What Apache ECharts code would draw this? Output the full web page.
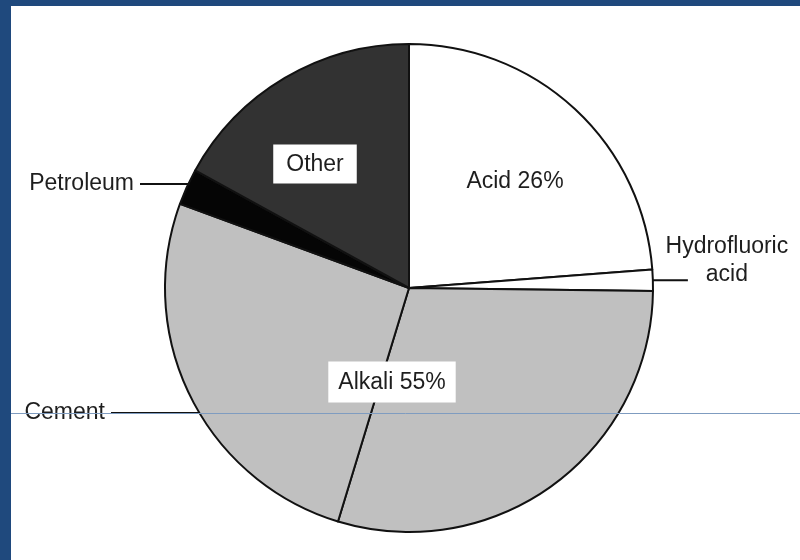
<!DOCTYPE html>
<html>
<head>
<meta charset="utf-8">
<title>Sulfuric acid uses</title>
<script src="https://cdn.jsdelivr.net/npm/echarts@6/dist/echarts.min.js"></script>
<style>
    html, body { margin: 0; padding: 0; background: #fff; }
    #chart { width: 800px; height: 560px; }
</style>
</head>
<body>
<div id="chart"></div>
<script>
    // slices, clockwise from 12 o'clock (percent of whole)
    var names = ['Acid', 'Hydrofluoric acid', 'Alkali', 'Cement', 'Petroleum', 'Other'];
    var shares = [23.8, 1.4, 29.5, 25.9, 2.4, 17.0];
    var labelTexts = ['Acid 26%', 'Hydrofluoric\nacid', 'Alkali 55%', 'Cement', 'Petroleum', 'Other'];

    var fills = ['#ffffff', '#ffffff', '#c0c0c0', '#c0c0c0', '#050505', '#323232'];
    var font = "'Liberation Sans', Arial, sans-serif";
    var ink = '#1e1e1e';

    // where the moved labels sit: [x, y, align]
    var labelPos = {
        'Acid': [515, 182, 'center'],
        'Alkali': [392, 382, 'center'],
        'Other': [315, 164, 'center'],
        'Petroleum': [190, 184, 'right'],
        'Cement': [200, 413, 'right']
    };
    // length of the leader drawn after the left-hand labels
    var leaderLen = { 'Petroleum': 50, 'Cement': 89 };

    var chart = echarts.init(document.getElementById('chart'));

    var data = names.map(function (n, i) {
        var item = {
            name: n,
            value: shares[i],
            itemStyle: { color: fills[i] },
            label: { show: true, formatter: labelTexts[i] },
            labelLine: { show: false }
        };
        if (n === 'Acid') {
            item.label.position = 'inside';
        } else if (n === 'Alkali' || n === 'Other') {
            item.label.position = 'inside';
            item.label.backgroundColor = '#fff';
            item.label.padding = n === 'Other' ? [6, 13, 5, 13] : [7, 10, 6, 10];
        } else if (n === 'Hydrofluoric acid') {
            item.label.position = 'outside';
            item.label.formatter = '{a|Hydrofluoric}\n{a|acid}';
            item.label.distanceToLabelLine = -25;
            item.label.padding = [0, 0, 40, 0];
            item.labelLine = { show: true, length: 3, length2: 32 };
        } else {
            // text followed by a horizontal leader to the rim
            item.label.position = 'inside';
            item.label.formatter = labelTexts[i] + '{g|}{ln' + i + '|}';
            item.label.rich = {};
            item.label.rich['ln' + i] = {
                width: leaderLen[n], height: 2, backgroundColor: '#111', verticalAlign: 'middle'
            };
            item.label.rich.g = { width: 6, height: 2 };
        }
        return item;
    });

    var option = {
        animation: false,
        backgroundColor: '#fff',
        graphic: [
            { type: 'rect', shape: { x: 0, y: 0, width: 800, height: 6 }, style: { fill: '#1f497d' }, z: 100 },
            { type: 'rect', shape: { x: 0, y: 0, width: 11, height: 560 }, style: { fill: '#1f497d' }, z: 100 },
            { type: 'line', shape: { x1: 11, y1: 413.5, x2: 800, y2: 413.5 }, style: { stroke: '#7f9cc0', lineWidth: 1 }, z: 100 }
        ],
        series: [{
            type: 'pie',
            center: [409, 288],
            radius: 244,
            startAngle: 90,
            clockwise: true,
            avoidLabelOverlap: false,
            silent: true,
            itemStyle: { borderColor: '#111', borderWidth: 2 },
            label: {
                color: ink,
                fontFamily: font,
                fontSize: 23,
                lineHeight: 28,
                rich: {
                    a: { width: 128, align: 'center', color: ink, fontFamily: font, fontSize: 23, lineHeight: 28 }
                }
            },
            labelLine: { lineStyle: { color: '#111', width: 2 } },
            labelLayout: function (params) {
                var p = labelPos[names[params.dataIndex]];
                if (!p) return {};
                return { x: p[0], y: p[1], align: p[2], verticalAlign: 'middle' };
            },
            emphasis: { disabled: true },
            data: data
        }]
    };

    chart.setOption(option);

    window.onresize = function () {
        chart.resize();
    };
</script>
</body>
</html>
